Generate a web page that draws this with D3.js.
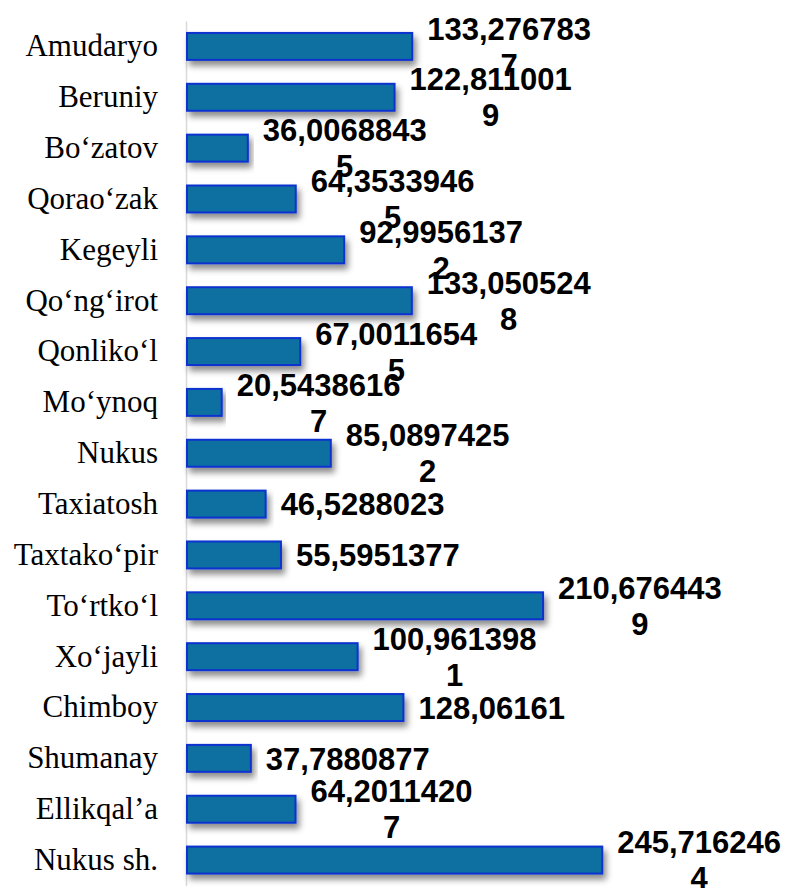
<!DOCTYPE html>
<html>
<head>
<meta charset="utf-8">
<script src="https://cdn.jsdelivr.net/npm/d3@7"></script>
<style>
  body { margin: 0; background: #fff; }
</style>
</head>
<body>
<div id="chart"></div>
<script>
// chart data
const districts = ["Amudaryo", "Beruniy", "Bo‘zatov", "Qorao‘zak", "Kegeyli", "Qo‘ng‘irot",
  "Qonliko‘l", "Mo‘ynoq", "Nukus", "Taxiatosh", "Taxtako‘pir", "To‘rtko‘l", "Xo‘jayli",
  "Chimboy", "Shumanay", "Ellikqal’a", "Nukus sh."];
const values = [133.2767837, 122.8110019, 36.00688435, 64.35339465, 92.99561372, 133.0505248,
  67.00116545, 20.54386167, 85.08974252, 46.5288023, 55.5951377, 210.6764439, 100.9613981,
  128.06161, 37.7880877, 64.20114207, 245.7162464];

const width = 789;
const height = 888;
const margin = {left: 187, top: 21, bottom: 2.5};
const maxLabelWidth = 175; // data labels wrap past this

const svg = d3.select("#chart")
  .append("svg")
  .attr("width", width)
  .attr("height", height);

// drop shadow for the bars
const defs = svg.append("defs");
const shadow = defs.append("filter")
  .attr("id", "shadow")
  .attr("x", "-5%").attr("y", "-30%")
  .attr("width", "115%").attr("height", "180%");
shadow.append("feDropShadow")
  .attr("dx", 3).attr("dy", 5)
  .attr("stdDeviation", 3)
  .attr("flood-color", "#000")
  .attr("flood-opacity", 0.45);

// scales
const xScale = d3.scaleLinear()
  .domain([0, 250])
  .range([margin.left, margin.left + 250 * 1.69]);

const yScale = d3.scaleBand()
  .domain(districts)
  .range([margin.top, height - margin.bottom])
  .paddingInner(0.47)
  .paddingOuter(0.235);

// category axis
const yAxis = svg.append("g")
  .attr("transform", `translate(${margin.left - 1}, 0)`)
  .call(d3.axisLeft(yScale).tickSize(0).tickPadding(28));
yAxis.select(".domain").attr("stroke", "#d9d9d9").attr("stroke-width", 1.5);
yAxis.selectAll("text")
  .attr("font-family", "'Liberation Serif', 'Times New Roman', serif")
  .attr("font-size", "31px")
  .attr("fill", "#000");

// bars
const data = districts.map((d, i) => ({name: d, value: values[i]}));

svg.selectAll(".bar")
  .data(data)
  .enter()
  .append("rect")
    .attr("class", "bar")
    .attr("x", xScale(0))
    .attr("y", d => yScale(d.name))
    .attr("width", d => xScale(d.value) - xScale(0))
    .attr("height", yScale.bandwidth())
    .attr("fill", "#0B6FA0")
    .attr("stroke", "#0A33CF")
    .attr("stroke-width", 2)
    .attr("filter", "url(#shadow)");

// data labels, wrapped like the spreadsheet does
const labels = svg.selectAll(".label")
  .data(data)
  .enter()
  .append("text")
    .attr("class", "label")
    .attr("font-family", "'Liberation Sans', Arial, sans-serif")
    .attr("font-weight", "bold")
    .attr("font-size", "31px")
    .attr("fill", "#000")
    .attr("text-anchor", "middle");

labels.each(function(d) {
  const el = d3.select(this);
  const str = String(d.value).replace(".", ",");
  // break the string into lines that fit
  const lines = [];
  let cur = "";
  const probe = el.append("tspan");
  for (const ch of str) {
    probe.text(cur + ch);
    if (cur.length > 0 && probe.node().getComputedTextLength() > maxLabelWidth) {
      lines.push(cur);
      cur = ch;
    } else {
      cur += ch;
    }
  }
  lines.push(cur);
  probe.text(lines[0]);
  const blockWidth = probe.node().getComputedTextLength();
  probe.remove();

  const lineHeight = 36;
  const cx = xScale(d.value) + 15 + blockWidth / 2;
  const cy = yScale(d.name) + yScale.bandwidth() / 2;
  const firstY = cy - (lines.length - 1) * lineHeight / 2;
  lines.forEach((ln, i) => {
    el.append("tspan")
      .attr("x", cx)
      .attr("y", firstY + i * lineHeight)
      .attr("dy", "0.36em")
      .text(ln);
  });
});
</script>
</body>
</html>
